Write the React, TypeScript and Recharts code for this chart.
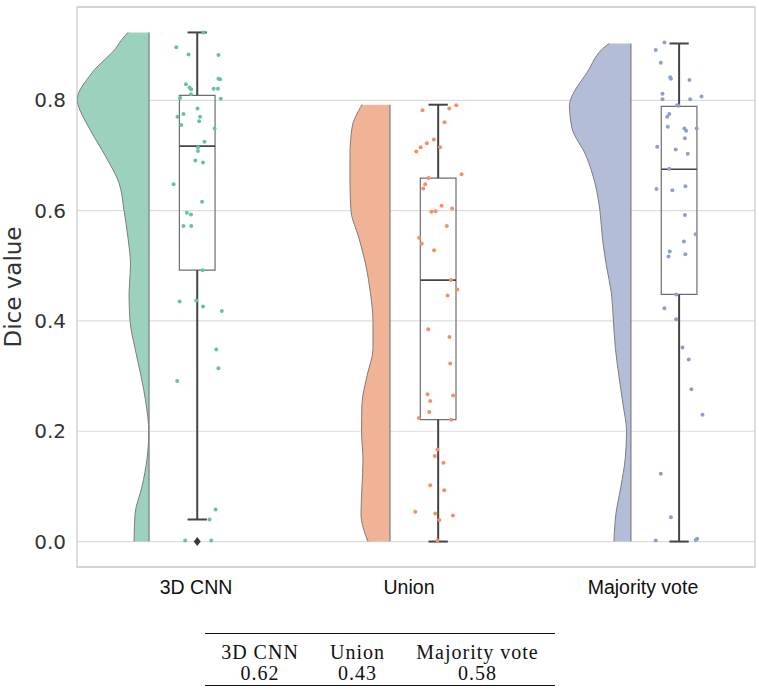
import React from "react"
import {
  Area,
  CartesianGrid,
  ComposedChart,
  Line,
  ReferenceArea,
  ReferenceLine,
  Scatter,
  XAxis,
  YAxis,
} from "recharts"

const categories = ["3D CNN", "Union", "Majority vote"]
const meanDice = ["0.62", "0.43", "0.58"]
const COLORS = ["#66c2a5", "#fc8d62", "#8da0cb"]
const VIOLIN_FILL = ["#9cd1bd", "#f0b396", "#b4bdd8"]

// half-violin density (read as width) at each dice level
const violinLevels = [0, 0.05, 0.1, 0.15, 0.2, 0.25, 0.3, 0.35, 0.4, 0.45, 0.5, 0.55, 0.6, 0.65, 0.7, 0.75, 0.792, 0.8, 0.85, 0.9, 0.903, 0.923]
const cnnDensity = [15, 14, 7, 2, 0.3, 3, 8, 14, 19, 20, 18.5, 21, 25, 30, 44, 60, 71, 72, 57, 31, 30, 21]
const unionDensity = [22, 29, 28, 27, 28.5, 28, 23, 17, 17, 19.5, 24, 31, 39, 40, 40, 38, 28, null, null, null, null, null]
const majorityDensity = [17, 15, 10, 5.7, 4.4, 8, 12, 15.5, 17.5, 19.5, 24.5, 28.5, 31, 36, 45, 59, 61.5, 60.5, 44, 24, 21.7, null]

// box plot stats
const boxLow = [0.04, 0.0, 0.0]
const boxQ1 = [0.492, 0.221, 0.448]
const boxMedian = [0.717, 0.474, 0.675]
const boxQ3 = [0.809, 0.659, 0.789]
const boxHigh = [0.923, 0.792, 0.903]
const cnnFliers = [0]

// strip points: dice value + horizontal jitter
const cnnValues = [0.896, 0.883, 0.882, 0.829, 0.823, 0.82, 0.839, 0.838, 0.821, 0.821, 0.804, 0.803, 0.811, 0.785, 0.775, 0.77, 0.77, 0.762, 0.755, 0.749, 0.725, 0.715, 0.708, 0.691, 0.687, 0.648, 0.616, 0.596, 0.593, 0.572, 0.572, 0.492, 0.923, 0.435, 0.437, 0.426, 0.418, 0.348, 0.314, 0.291, 0.058, 0.04, 0.002, 0.002, 0.0]
const cnnJitter = [-0.087, -0.036, 0.088, -0.047, -0.032, -0.025, 0.088, 0.095, 0.068, 0.086, -0.071, 0.098, -0.026, 0.001, -0.057, -0.082, 0.012, 0.008, -0.066, 0.072, 0.03, 0.003, 0.003, -0.008, 0.024, -0.098, 0.02, -0.043, -0.026, -0.057, -0.025, 0.022, 0.026, -0.073, -0.004, 0.024, 0.102, 0.079, 0.088, -0.083, 0.076, 0.051, -0.05, 0.058, 0.001]
const unionValues = [0.782, 0.785, 0.791, 0.76, 0.729, 0.722, 0.715, 0.707, 0.715, 0.666, 0.659, 0.648, 0.64, 0.609, 0.604, 0.598, 0.599, 0.572, 0.551, 0.54, 0.528, 0.474, 0.457, 0.446, 0.385, 0.371, 0.323, 0.267, 0.255, 0.265, 0.235, 0.224, 0.221, 0.167, 0.155, 0.143, 0.102, 0.093, 0.054, 0.051, 0.047, 0.039, 0.002]
const unionJitter = [-0.065, 0.046, 0.075, 0.026, -0.018, -0.047, -0.073, -0.091, 0.008, 0.097, -0.04, -0.054, -0.062, 0.014, 0.058, -0.028, -0.011, 0.036, -0.079, -0.068, -0.017, 0.053, 0.079, 0.039, -0.041, 0.047, 0.05, -0.044, -0.033, 0.062, -0.037, -0.08, 0.054, -0.003, -0.014, 0.022, -0.033, 0.025, -0.095, -0.012, 0.061, 0.005, -0.003]
const majorityValues = [0.905, 0.891, 0.868, 0.842, 0.839, 0.837, 0.812, 0.802, 0.802, 0.807, 0.791, 0.79, 0.775, 0.77, 0.752, 0.749, 0.745, 0.749, 0.731, 0.716, 0.711, 0.703, 0.676, 0.639, 0.637, 0.644, 0.592, 0.557, 0.544, 0.526, 0.517, 0.521, 0.448, 0.423, 0.403, 0.352, 0.33, 0.276, 0.23, 0.123, 0.044, 0.002, 0.003, 0.005]
const majorityJitter = [-0.061, -0.097, -0.076, -0.037, -0.034, 0.043, -0.069, -0.069, 0.046, 0.093, -0.008, -0.003, -0.041, -0.049, -0.047, 0.022, 0.029, 0.073, 0.024, -0.091, -0.014, 0.036, -0.041, -0.094, -0.028, 0.026, 0.024, 0.069, 0.02, -0.039, -0.044, 0.026, -0.012, -0.061, -0.012, 0.014, 0.04, 0.051, 0.097, -0.076, -0.034, -0.097, 0.069, 0.075]

const yTicks = [0, 0.2, 0.4, 0.6, 0.8]

// layout constants
const X_DOMAIN = [-0.299, 2.515]
const Y_DOMAIN = [-0.04615, 0.96915]
const BOX_OFFSET = 0.2
const BOX_HALF = 0.074
const CAP_HALF = 0.04
const WIDTH_SCALE = 1 / 241
const LABEL_POS = [0.195, 1.079, 2.05]

const densityKeys = ["cnn", "union", "majority"]
const violinRows = violinLevels.map((v, i) => ({
  v,
  cnn: cnnDensity[i],
  union: unionDensity[i],
  majority: majorityDensity[i],
}))

const toPoints = (values: number[], jitter: number[], g: number) =>
  values.map((v, i) => ({ x: g + BOX_OFFSET + jitter[i], v }))

const pointSets = [
  toPoints(cnnValues, cnnJitter, 0),
  toPoints(unionValues, unionJitter, 1),
  toPoints(majorityValues, majorityJitter, 2),
]
const flierPoints = cnnFliers.map((v) => ({ x: BOX_OFFSET, v }))

export default function App() {
  return (
    <div style={{ position: "absolute", left: 0, top: 0, width: 759, height: 689, background: "#fff" }}>
      <ComposedChart
        width={759}
        height={620}
        layout="vertical"
        data={violinRows}
        margin={{ top: 7, right: 4, bottom: 23, left: 0 }}
      >
        <CartesianGrid vertical={false} stroke="#dddddd" strokeWidth={1.2} />
        <XAxis
          type="number"
          domain={X_DOMAIN}
          allowDataOverflow
          ticks={LABEL_POS}
          tickFormatter={(_v, i) => categories[i]}
          axisLine={false}
          tickLine={false}
          tickSize={0}
          tickMargin={13}
          height={30}
          interval={0}
          tick={{ fontSize: 19.5, fill: "#111", fontFamily: "Liberation Sans, Arial, sans-serif" }}
        />
        <YAxis
          type="number"
          dataKey="v"
          reversed
          domain={Y_DOMAIN}
          allowDataOverflow
          ticks={yTicks}
          tickFormatter={(v) => v.toFixed(1)}
          axisLine={false}
          tickLine={false}
          tickSize={0}
          tickMargin={11}
          width={77}
          interval={0}
          tick={{ fontSize: 20, fill: "#333", fontFamily: "DejaVu Sans, sans-serif" }}
          label={{
            value: "Dice value",
            angle: -90,
            position: "insideLeft",
            offset: 13,
            style: { textAnchor: "middle", fontSize: 23, fill: "#333", fontFamily: "DejaVu Sans, sans-serif" },
          }}
        />
        <ReferenceArea
          x1={X_DOMAIN[0]}
          x2={X_DOMAIN[1]}
          y1={Y_DOMAIN[0]}
          y2={Y_DOMAIN[1]}
          ifOverflow="visible"
          fill="none"
          fillOpacity={0}
          stroke="#cccccc"
          strokeWidth={1.3}
        />
        {densityKeys.map((key, g) => (
          <Area
            key={key}
            type="monotone"
            dataKey={(d: any) => (d[key] == null ? null : [g, g - d[key] * WIDTH_SCALE])}
            fill={VIOLIN_FILL[g]}
            fillOpacity={1}
            stroke="none"
            isAnimationActive={false}
          />
        ))}
        {densityKeys.map((key, g) => (
          <Line
            key={key + "-edge"}
            type="monotone"
            dataKey={(d: any) => (d[key] == null ? null : g - d[key] * WIDTH_SCALE)}
            stroke="#7d7d7d"
            strokeWidth={1}
            dot={false}
            activeDot={false}
            isAnimationActive={false}
          />
        ))}
        {categories.map((c, g) => (
          <ReferenceLine
            key={c + "-base"}
            segment={[{ x: g, y: 0 }, { x: g, y: boxHigh[g] }]}
            stroke="#7d7d7d"
            strokeWidth={1.2}
          />
        ))}
        {categories.map((c, g) => {
          const cx = g + BOX_OFFSET
          return (
            <React.Fragment key={c}>
              <ReferenceArea
                x1={cx - BOX_HALF}
                x2={cx + BOX_HALF}
                y1={boxQ1[g]}
                y2={boxQ3[g]}
                fill="none"
                fillOpacity={0}
                stroke="#6e6e6e"
                strokeWidth={1.2}
              />
              <ReferenceLine segment={[{ x: cx, y: boxQ3[g] }, { x: cx, y: boxHigh[g] }]} stroke="#444" strokeWidth={2} />
              <ReferenceLine segment={[{ x: cx, y: boxLow[g] }, { x: cx, y: boxQ1[g] }]} stroke="#444" strokeWidth={2} />
              <ReferenceLine segment={[{ x: cx - CAP_HALF, y: boxHigh[g] }, { x: cx + CAP_HALF, y: boxHigh[g] }]} stroke="#444" strokeWidth={2} />
              <ReferenceLine segment={[{ x: cx - CAP_HALF, y: boxLow[g] }, { x: cx + CAP_HALF, y: boxLow[g] }]} stroke="#444" strokeWidth={2} />
              <ReferenceLine segment={[{ x: cx - BOX_HALF, y: boxMedian[g] }, { x: cx + BOX_HALF, y: boxMedian[g] }]} stroke="#444" strokeWidth={1.6} />
            </React.Fragment>
          )
        })}
        {pointSets.map((pts, g) => (
          <Scatter
            key={categories[g]}
            data={pts}
            dataKey="x"
            isAnimationActive={false}
            shape={(p: any) => <circle cx={p.cx} cy={p.cy} r={2} fill={COLORS[g]} />}
          />
        ))}
        <Scatter
          data={flierPoints}
          dataKey="x"
          isAnimationActive={false}
          shape={(p: any) => (
            <path
              d={`M${p.cx},${p.cy - 4.5} L${p.cx + 3.5},${p.cy} L${p.cx},${p.cy + 4.5} L${p.cx - 3.5},${p.cy} Z`}
              fill="#3a3a3a"
            />
          )}
        />
      </ComposedChart>

      <div
        style={{
          position: "absolute",
          left: 205,
          top: 633,
          width: 350,
          height: 53,
          boxSizing: "border-box",
          borderTop: "1.3px solid #111",
          borderBottom: "1.3px solid #111",
          fontFamily: "Liberation Serif, serif",
          fontSize: 20,
          letterSpacing: 1,
          color: "#111",
        }}
      >
        {[categories, meanDice].map((row, r) => (
          <div
            key={r}
            style={{ position: "absolute", top: 8 + r * 21, left: 0, width: 350, height: 21, lineHeight: "21px", display: "flex" }}
          >
            {row.map((txt, i) => (
              <div key={i} style={{ width: [110, 85, 155][i], textAlign: "center", whiteSpace: "nowrap" }}>
                {txt}
              </div>
            ))}
          </div>
        ))}
      </div>
    </div>
  )
}
